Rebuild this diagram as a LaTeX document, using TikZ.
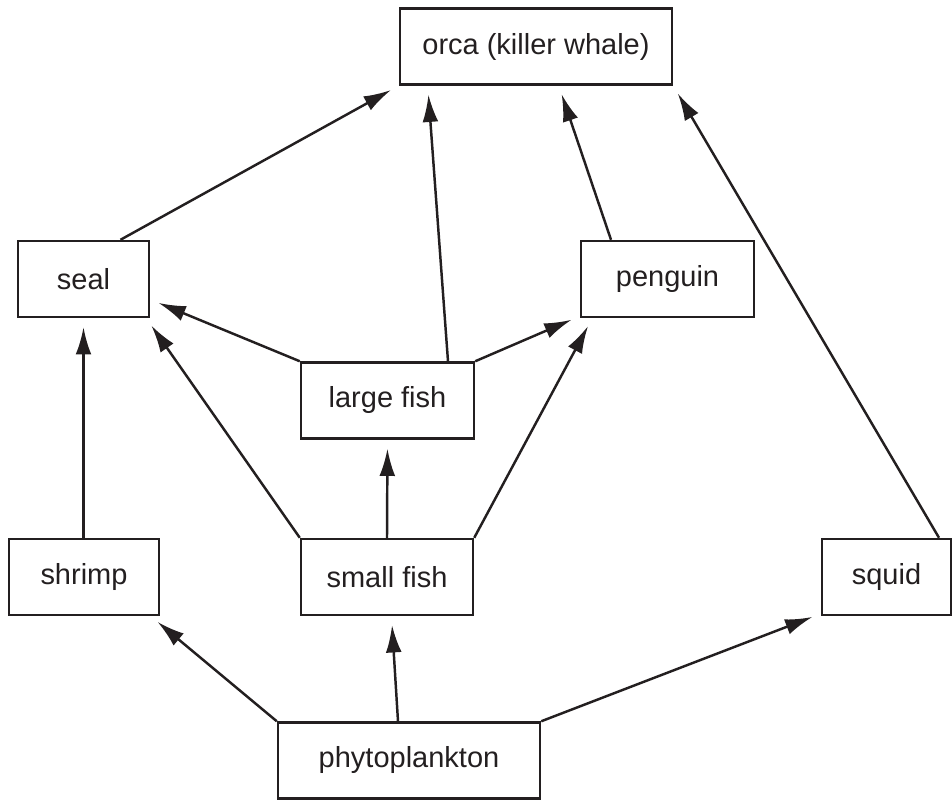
\documentclass[tikz,border=0pt]{standalone}
\usepackage{fontspec}
\setmainfont{Liberation Sans}
\usepackage{xcolor}
\usepackage{tikz}
\usetikzlibrary{arrows.meta}
\definecolor{ink}{HTML}{231F20}

\begin{document}
\begin{tikzpicture}[
	animal/.style={draw=ink,text=ink,line width=1.4pt,inner sep=0pt,minimum height=1.52cm,
		font=\fontsize{16.5pt}{20pt}\selectfont},
	eats/.style={draw=ink,line width=1.4pt,-{Latex[length=15.5pt,width=9pt]},shorten >=0.18cm}
	]
			\useasboundingbox (0,0) rectangle (19.04,15.98);
			
			\node[animal,minimum width=5.44cm] (orca) at (10.72,15.05) {orca (killer whale)};
			
			\node[animal,minimum width=2.62cm] (seal) at (1.67,10.40) {seal};
			\node[animal,minimum width=3.46cm] (penguin) at (13.35,10.40) {penguin};
			
			\node[animal,minimum width=3.46cm] (lfish) at (7.75,7.97) {large fish};
			
			\node[animal,minimum width=3.00cm] (shrimp) at (1.68,4.44) {shrimp};
			\node[animal,minimum width=3.44cm] (sfish) at (7.74,4.44) {small fish};
			\node[animal,minimum width=2.58cm] (squid) at (17.73,4.44) {squid};
			
			\node[animal,minimum width=5.24cm] (phyto) at (8.18,0.77) {phytoplankton};
			
			% to the orca
			\draw[eats] ([xshift=0.74cm]seal.north) -- (orca.south west);
			\draw[eats] ([xshift=1.21cm]lfish.north) -- ([xshift=0.58cm]orca.south west);
			\draw[eats] ([xshift=-1.13cm]penguin.north) -- ([xshift=3.2cm]orca.south west);
			\draw[eats] ([xshift=1.05cm]squid.north) -- (orca.south east);
			
			% to seal and penguin
			\draw[eats] (seal.south |- shrimp.north) -- (seal.south);
			\draw[eats] (sfish.north west) -- ([xshift=-0.08cm]seal.south east);
			\draw[eats] (lfish.north west) -- ([yshift=-0.41cm]seal.east);
			\draw[eats] (lfish.north east) -- ([yshift=0.04cm]penguin.south west);
			\draw[eats] (sfish.north east) -- ([xshift=0.25cm]penguin.south west);
			
			\draw[eats] (sfish.north) -- (lfish.south);
			
			% from the phytoplankton
			\draw[eats] (phyto.north west) -- ([xshift=-0.19cm]shrimp.south east);
			\draw[eats] ([xshift=-0.22cm]phyto.north) -- ([xshift=0.09cm]sfish.south);
			\draw[eats] (phyto.north east) -- ([yshift=0.05cm]squid.south west);
		\end{tikzpicture}
\end{document}
